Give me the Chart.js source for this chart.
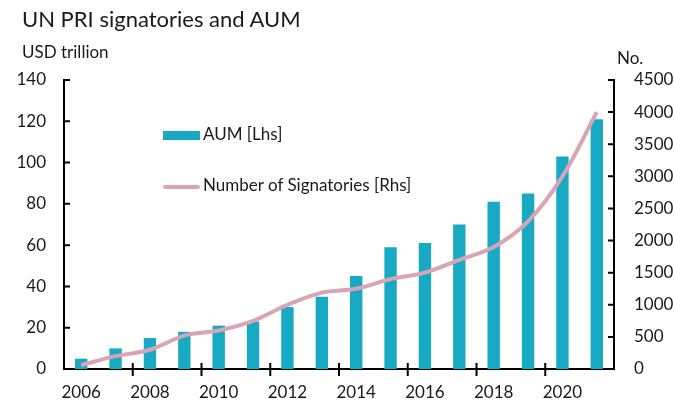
<!DOCTYPE html>
<html>
<head>
<meta charset="utf-8">
<script src="https://cdn.jsdelivr.net/npm/chart.js@4.4.0/dist/chart.umd.min.js"></script>
<style>
  body { margin: 0; background: #fff; font-family: Lato, sans-serif; color: #1a1a1a; }
  #wrap { position: relative; width: 675px; height: 403px; }
  .txt { position: absolute; white-space: nowrap; }
  #title { left: 22px; top: 5px; font-size: 22px; }
  #lhs { left: 22px; top: 41px; font-size: 17px; }
  #rhs { left: 617px; top: 47px; font-size: 17px; }
  .leg { position: absolute; left: 163px; font-size: 17px; white-space: nowrap; }
  .leg span { display: inline-block; vertical-align: middle; margin-right: 3px; }
</style>
</head>
<body>
<div id="wrap">
  <canvas id="chart" width="675" height="403"></canvas>
  <div class="txt" id="title">UN PRI signatories and AUM</div>
  <div class="txt" id="lhs">USD trillion</div>
  <div class="txt" id="rhs">No.</div>
  <div class="leg" style="top:123px"><span style="width:37px;height:9px;background:#17aac2"></span>AUM [Lhs]</div>
  <div class="leg" style="top:174px"><span style="width:37px;height:4px;background:#dba3b6;border-radius:2px"></span>Number of Signatories [Rhs]</div>
</div>
<script>
// Data
const years = ['2006', '2007', '2008', '2009', '2010', '2011', '2012', '2013',
               '2014', '2015', '2016', '2017', '2018', '2019', '2020', '2021'];
const aum = [5, 10, 15, 18, 21, 23, 30, 35, 45, 59, 61, 70, 81, 85, 103, 121];
const signatories = [60, 200, 300, 520, 600, 750, 1000, 1190, 1250, 1400, 1500, 1700, 1900, 2300, 3000, 4000];

// Tick marks that sit inside the plot / cross the category axis
const axisTicks = {
  id: 'axisTicks',
  afterDraw(chart) {
    const c = chart.ctx;
    const { x, y, y1 } = chart.scales;
    c.save();
    c.strokeStyle = '#000';
    c.lineWidth = 2;
    c.beginPath();
    for (let i = 2; i < years.length; i += 2) {
      const px = (x.getPixelForValue(i - 1) + x.getPixelForValue(i)) / 2;
      c.moveTo(px, y.bottom - 6);
      c.lineTo(px, y.bottom + 7);
    }
    y.ticks.forEach(t => {
      const py = y.getPixelForValue(t.value);
      c.moveTo(y.right, py);
      c.lineTo(y.right + 6, py);
    });
    y1.ticks.forEach(t => {
      const py = y1.getPixelForValue(t.value);
      c.moveTo(y1.left, py);
      c.lineTo(y1.left - 6, py);
    });
    c.stroke();
    c.restore();
  }
};

const font = { family: 'Lato', size: 17 };

new Chart(document.getElementById('chart'), {
  data: {
    labels: years,
    datasets: [{
      type: 'line',
      label: 'Number of Signatories [Rhs]',
      data: signatories,
      yAxisID: 'y1',
      borderColor: '#dba3b6',
      borderWidth: 4,
      pointRadius: 0,
      tension: 0.35,
      order: 0
    }, {
      type: 'bar',
      label: 'AUM [Lhs]',
      data: aum,
      yAxisID: 'y',
      backgroundColor: '#17aac2',
      categoryPercentage: 1,
      barPercentage: 0.36,
      order: 1
    }]
  },
  options: {
    responsive: false,
    animation: false,
    layout: { padding: { top: 80, left: 0, right: 0, bottom: 0 } },
    plugins: { legend: { display: false }, tooltip: { enabled: false } },
    scales: {
      x: {
        grid: { display: false },
        border: { color: '#000', width: 2 },
        ticks: {
          autoSkip: false, maxRotation: 0, color: '#1a1a1a', font, padding: 5,
          callback: (v, i) => (i % 2 === 0 ? years[i] : '')
        },
        afterFit: s => { s.height = 34; }
      },
      y: {
        position: 'left',
        min: 0, max: 140,
        grid: { display: false },
        border: { color: '#000', width: 2 },
        ticks: { stepSize: 20, color: '#1a1a1a', font, padding: 10 },
        afterFit: s => { s.width = 64; }
      },
      y1: {
        position: 'right',
        min: 0, max: 4500,
        grid: { display: false },
        border: { color: '#000', width: 2 },
        ticks: { stepSize: 500, color: '#1a1a1a', font, padding: 12, callback: v => String(v) },
        afterFit: s => { s.width = 61; }
      }
    }
  },
  plugins: [axisTicks]
});
</script>
</body>
</html>
